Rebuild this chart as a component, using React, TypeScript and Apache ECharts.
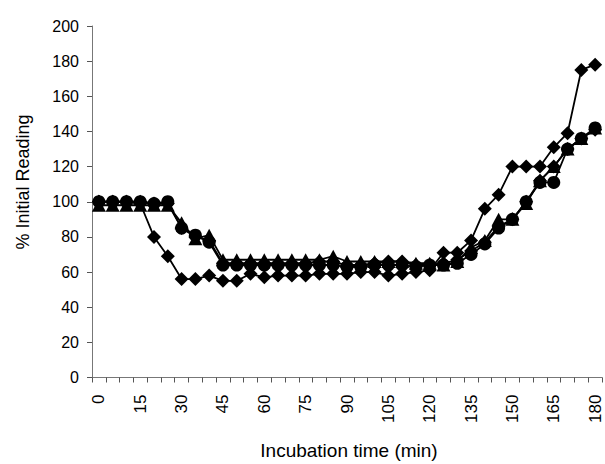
import React, { useEffect, useRef } from "react";
import * as echarts from "echarts";

const minutes: string[] = [
  "0","5","10","15","20","25","30","35","40","45","50","55","60","65","70","75","80","85","90",
  "95","100","105","110","115","120","125","130","135","140","145","150","155","160","165","170","175","180",
];

const yTicks = [0, 20, 40, 60, 80, 100, 120, 140, 160, 180, 200];

const diamondA: number[] = [100,100,100,99,80,69,56,56,58,55,55,59,57,58,58,58,59,59,59,60,60,58,59,60,61,71,71,78,96,104,120,120,120,131,139,175,178];
const diamondB: number[] = [100,100,100,100,99,99,85,80,78,65,65,65,65,65,65,65,66,66,64,64,65,66,66,64,64,65,67,72,77,86,90,100,112,120,130,136,141];
const triangle: number[] = [98,98,98,98,98,98,88,79,81,67,67,67,67,67,67,67,67,69,66,66,66,66,66,65,65,64,66,74,78,90,90,99,112,120,130,136,142];
const circle: number[] = [100,100,100,100,99,100,85,81,77,64,64,64,64,64,64,64,64,64,63,63,64,64,64,63,64,64,65,70,76,85,90,100,111,111,130,136,142];

const xTitle = "Incubation time (min)";
const yTitle = "% Initial Reading";

const FONT = "'Liberation Sans', Arial, sans-serif";

export default function App() {
  const ref = useRef<HTMLDivElement>(null);
  useEffect(() => {
    if (!ref.current) return;
    const chart = echarts.init(ref.current, null, { renderer: "svg" });
    const mk = (name: string, data: number[], symbol: string, size: any) => ({
      name,
      type: "line",
      data,
      symbol,
      symbolSize: size,
      showAllSymbol: true,
      lineStyle: { color: "#000", width: 1.8 },
      itemStyle: { color: "#000" },
      z: 2,
    });
    chart.setOption({
      animation: false,
      backgroundColor: "#fff",
      grid: { left: 92, right: 3, top: 26, bottom: 86.5, containLabel: false },
      xAxis: {
        type: "category",
        data: minutes,
        boundaryGap: true,
        axisLine: { lineStyle: { color: "#777", width: 1 } },
        axisTick: { show: true, interval: 0, length: 5, lineStyle: { color: "#555" } },
        axisLabel: {
          interval: 2,
          rotate: 90,
          margin: 17,
          color: "#000",
          fontFamily: FONT,
          fontSize: 17,
        },
        splitLine: { show: false },
      },
      yAxis: {
        type: "value",
        min: yTicks[0],
        max: yTicks[yTicks.length - 1],
        interval: 20,
        axisLine: { show: true, lineStyle: { color: "#777", width: 1 } },
        axisTick: { show: true, length: 5, lineStyle: { color: "#555" } },
        axisLabel: { margin: 13, color: "#000", fontFamily: FONT, fontSize: 16 },
        splitLine: { show: false },
      },
      graphic: [
        {
          type: "text",
          x: 349,
          y: 450,
          style: {
            text: xTitle,
            fill: "#000",
            font: `19px ${FONT}`,
            textAlign: "center",
            textVerticalAlign: "middle",
          },
        },
        {
          type: "text",
          x: 23,
          y: 182,
          rotation: Math.PI / 2,
          style: {
            text: yTitle,
            fill: "#000",
            font: `18px ${FONT}`,
            textAlign: "center",
            textVerticalAlign: "middle",
          },
        },
      ],
      series: [
        mk("A", diamondA, "diamond", [14, 14]),
        mk("B", diamondB, "diamond", [14, 14]),
        mk("C", triangle, "triangle", [14, 13]),
        mk("D", circle, "circle", 13),
      ],
    });
    return () => chart.dispose();
  }, []);
  return (
    <div
      ref={ref}
      style={{ position: "absolute", left: 0, top: 0, width: 605, height: 464, background: "#fff" }}
    />
  );
}
